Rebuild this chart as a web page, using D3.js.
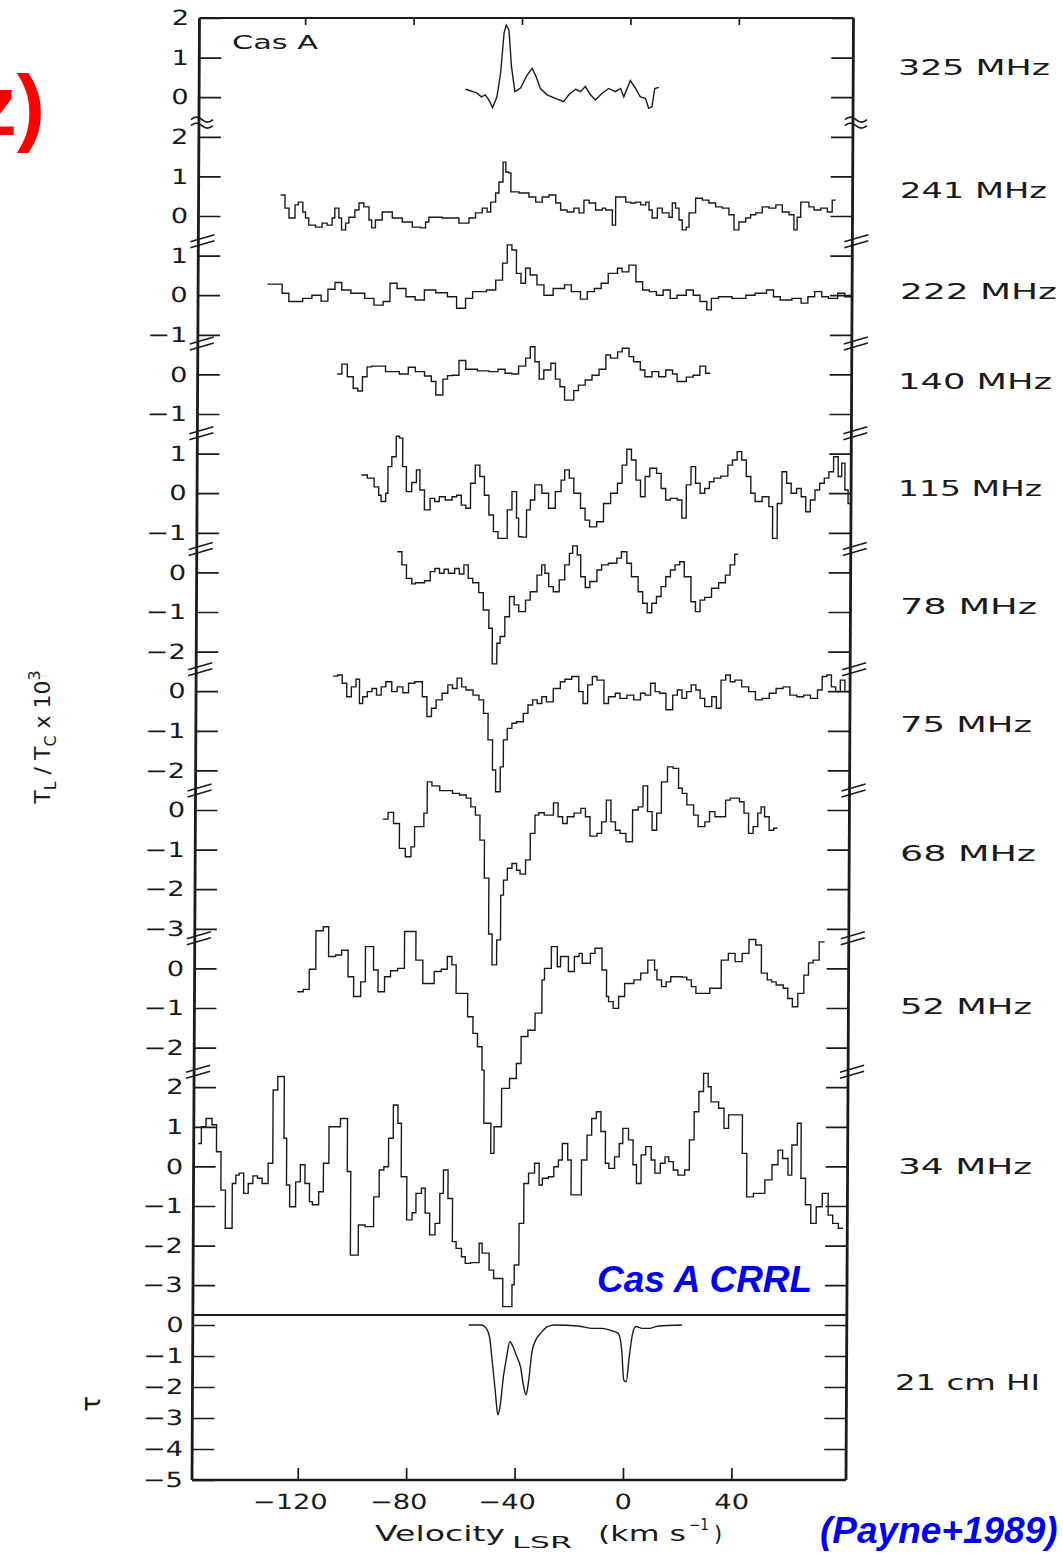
<!DOCTYPE html>
<html>
<head>
<meta charset="utf-8">
<title>Cas A carbon recombination lines</title>
<script src="https://cdn.jsdelivr.net/npm/d3@7"></script>
<style>
  body { margin: 0; background: #fff; }
  svg { display: block; }
</style>
</head>
<body>
<script>
// ---------------- data ----------------
// velocities in km/s (LSR), line/continuum ratio in units of 1e-3
// stepped spectra: velocity arrays hold channel edges (one more entry than the values)

const v325 = [-60.7,-56.6,-54.8,-53.4,-52.1,-50.7,-49.1,-47.8,-46.6,-45.8,-44.8,-43.8,-42.5,-40.4,-38.0,-36.2,-34.7,-33.1,-30.6,-27.5,-24.5,-22.6,-20.1,-18.3,-16.5,-14.6,-12.8,-10.3,-7.9,-5.4,-3.5,-2.3,0.1,2.0,3.8,5.7,6.9,8.1,9.1,10.6];
const t325 = [0.20,0.11,0.01,0.06,-0.07,-0.26,0.01,0.61,1.62,1.82,1.70,0.77,0.14,0.23,0.56,0.73,0.52,0.22,0.06,-0.03,-0.11,0.06,0.20,0.14,0.27,0.06,-0.07,0.10,0.22,0.14,0.22,0.01,0.42,0.22,0.01,-0.03,-0.28,-0.24,0.22,0.25];

const v241 = [-128.7,-127.1,-125.6,-123.4,-122.2,-120.5,-119.5,-118.3,-115.8,-113.4,-111.5,-109.7,-108.7,-107.2,-106.2,-104.7,-103.5,-101.3,-99.8,-98.0,-96.1,-95.1,-93.7,-91.2,-87.5,-83.8,-80.1,-77.0,-75.2,-74.0,-69.1,-62.9,-59.2,-56.8,-54.3,-52.5,-51.2,-49.4,-48.2,-46.7,-45.7,-44.7,-43.8,-40.8,-37.1,-34.6,-32.2,-29.7,-27.2,-25.4,-23.0,-20.5,-18.6,-16.8,-14.9,-12.5,-10.0,-8.8,-6.3,-5.1,-1.4,0.4,2.3,4.1,6.0,7.2,8.4,10.3,12.1,14.6,15.8,17.0,18.3,19.5,21.0,22.0,24.4,26.9,29.3,31.8,34.2,36.7,38.6,40.4,42.9,44.7,46.6,49.0,51.5,54.0,56.4,58.9,60.7,61.9,63.2,66.2,68.1,70.6,73.0,74.8,76.1];
const t241 = [0.53,0.20,-0.05,0.28,0.35,0.10,-0.05,-0.23,-0.28,-0.18,-0.23,-0.05,0.20,-0.05,-0.35,-0.18,-0.03,0.15,0.33,0.23,-0.10,-0.30,-0.10,0.10,-0.05,-0.15,-0.28,-0.30,-0.15,-0.03,-0.05,-0.18,-0.05,0.08,0.20,0.10,0.35,0.58,0.86,1.36,1.11,1.09,0.61,0.58,0.48,0.35,0.48,0.53,0.33,0.15,0.10,0.20,0.08,0.40,0.33,0.15,0.20,0.15,-0.23,0.48,0.35,0.33,0.35,0.28,0.35,0.15,-0.05,0.20,0.08,-0.03,0.33,0.20,-0.10,-0.35,-0.28,0.08,0.45,0.40,0.33,0.23,0.20,0.03,-0.35,-0.15,-0.05,0.03,0.08,0.23,0.20,0.28,0.10,0.03,-0.35,-0.03,0.35,0.23,0.15,0.20,0.10,0.40];

const v222 = [-133.4,-128.0,-125.5,-120.4,-117.0,-113.6,-111.1,-108.5,-106.0,-102.6,-97.5,-94.1,-90.7,-88.2,-85.6,-82.3,-78.9,-75.5,-71.3,-67.0,-63.6,-60.3,-57.7,-52.6,-49.2,-46.7,-45.0,-43.3,-41.6,-39.9,-38.2,-36.5,-34.0,-31.4,-28.0,-23.8,-21.3,-17.9,-15.4,-12.8,-10.3,-7.7,-4.3,-2.6,-0.1,2.5,5.0,7.5,10.1,12.6,15.2,17.7,21.1,23.7,26.2,28.7,30.4,33.0,38.0,43.1,46.5,50.7,53.3,55.8,60.1,63.5,66.0,68.5,71.1,73.6,77.0,79.6,82.0];
const t222 = [0.28,0.05,-0.16,-0.08,0.0,-0.15,0.15,0.32,0.13,0.05,-0.08,-0.25,-0.16,0.30,0.17,-0.04,-0.12,0.13,0.06,-0.04,-0.33,-0.08,0.09,0.13,0.38,0.81,1.27,1.14,0.55,0.30,0.68,0.51,0.26,0.0,0.17,0.26,0.09,-0.10,0.09,0.17,0.30,0.55,0.68,0.59,0.76,0.34,0.13,0.09,0.0,0.13,-0.08,0.0,0.13,0.0,-0.16,-0.37,-0.08,-0.04,-0.08,0.0,0.05,0.13,-0.04,-0.12,-0.08,-0.20,-0.04,0.09,-0.04,-0.08,0.05,-0.04];

const v140 = [-107.5,-105.8,-103.8,-101.6,-99.9,-98.2,-96.5,-94.8,-89.7,-84.6,-81.3,-78.7,-75.3,-72.8,-71.1,-68.5,-66.8,-65.1,-62.6,-60.1,-55.8,-51.6,-48.2,-45.6,-43.1,-40.6,-38.0,-36.3,-34.6,-33.0,-31.3,-28.7,-27.0,-25.3,-23.6,-20.2,-18.5,-16.0,-13.5,-10.9,-8.4,-6.7,-4.1,-2.4,0.1,1.8,4.3,6.0,8.6,11.1,13.7,16.2,17.9,21.3,23.8,26.3,28.4,30.1];
const t140 = [0.01,0.26,-0.06,-0.35,-0.42,-0.06,0.19,0.21,0.07,0.01,0.18,0.07,-0.04,-0.18,-0.52,-0.12,-0.03,-0.02,0.35,0.13,0.09,0.07,0.13,0.03,0.01,0.21,0.41,0.70,0.32,-0.12,0.11,0.28,-0.12,-0.31,-0.65,-0.41,-0.27,-0.14,-0.02,0.13,0.49,0.41,0.57,0.66,0.45,0.32,0.11,-0.06,0.07,-0.06,0.11,0.01,-0.18,-0.07,-0.02,0.21,0.03];

const v115 = [-98.4,-96.2,-93.7,-92.0,-91.1,-89.4,-88.6,-87.2,-85.6,-84.4,-83.2,-81.8,-79.8,-78.1,-76.8,-75.1,-73.0,-71.3,-69.6,-67.4,-64.9,-63.2,-61.5,-59.8,-58.1,-56.4,-54.7,-53.0,-51.3,-49.6,-47.9,-46.2,-44.5,-42.8,-41.1,-40.3,-39.1,-37.4,-36.0,-34.4,-31.8,-29.3,-26.8,-24.7,-23.4,-21.7,-20.0,-17.5,-15.8,-14.1,-11.5,-9.0,-6.4,-3.9,-2.2,-0.5,1.2,2.9,4.6,6.3,8.0,10.5,12.2,13.9,15.6,18.2,19.9,21.5,23.2,24.9,26.6,28.3,30.0,31.7,34.2,36.8,38.5,40.2,41.9,43.6,45.3,46.9,49.5,52.0,53.4,55.1,56.8,58.5,60.2,62.2,63.9,65.6,67.3,69.0,70.7,72.4,74.1,75.8,77.5,78.8,80.0,81.2,82.2];
const t115 = [0.46,0.38,0.16,-0.05,-0.21,0.0,0.67,0.92,1.44,1.39,0.67,0.04,0.27,0.59,0.08,-0.42,-0.13,-0.21,-0.09,-0.17,-0.09,-0.05,-0.30,-0.38,0.25,0.71,0.42,-0.05,-0.55,-0.97,-1.14,-1.14,-0.42,0.04,-0.63,-1.10,-1.11,-0.42,-0.17,0.21,0.0,-0.38,0.04,0.33,0.59,0.38,0.0,-0.38,-0.68,-0.85,-0.72,-0.26,0.0,0.25,0.71,1.11,0.84,0.33,-0.09,0.42,0.63,0.50,0.12,-0.17,-0.13,-0.17,-0.63,0.21,0.67,0.25,0.0,0.12,0.29,0.38,0.43,0.71,0.84,1.05,0.84,0.42,0.0,-0.21,-0.09,-0.34,-1.14,-0.26,0.54,0.25,0.0,0.12,-0.09,-0.47,-0.17,0.08,0.25,0.38,0.54,0.92,0.42,0.76,0.08,-0.26];

const v78 = [-85.0,-83.3,-81.6,-79.6,-78.3,-74.9,-72.8,-71.1,-69.4,-67.7,-66.1,-63.8,-62.1,-60.4,-58.8,-57.1,-54.9,-53.2,-51.1,-49.8,-48.1,-46.9,-45.2,-43.5,-41.8,-40.1,-37.6,-35.9,-33.4,-31.7,-30.5,-29.1,-27.4,-25.2,-23.2,-21.5,-20.3,-18.6,-17.3,-15.6,-13.9,-11.3,-9.6,-7.1,-4.0,-2.3,-0.3,1.4,3.9,5.6,7.3,9.0,10.7,12.4,14.1,15.8,17.5,19.2,20.9,23.4,25.1,26.8,28.5,31.0,33.6,36.1,37.8,39.5,40.7];
const t78 = [0.52,0.19,-0.15,-0.29,-0.26,-0.21,0.02,0.10,-0.02,0.08,-0.02,0.10,-0.04,0.19,-0.15,-0.26,-0.51,-0.95,-1.41,-2.31,-1.79,-1.62,-1.12,-0.61,-0.82,-0.99,-0.70,-0.49,-0.07,0.19,-0.02,-0.36,-0.49,-0.19,0.19,0.48,0.67,0.44,-0.11,-0.38,-0.23,0.06,0.19,0.23,0.36,0.52,0.23,-0.11,-0.49,-0.78,-1.02,-0.78,-0.61,-0.36,-0.11,0.06,0.19,0.27,-0.11,-0.74,-0.99,-0.70,-0.63,-0.40,-0.26,-0.07,0.19,0.46];

const v75 = [-108.5,-106.8,-105.1,-103.4,-101.7,-100.0,-98.7,-97.5,-95.8,-94.1,-92.4,-90.7,-89.0,-86.8,-84.8,-82.7,-80.6,-78.3,-75.5,-73.8,-72.1,-70.4,-68.2,-66.1,-64.4,-62.7,-61.0,-59.4,-56.8,-54.6,-52.9,-51.2,-49.5,-48.3,-46.6,-45.5,-44.1,-42.4,-40.7,-38.2,-36.5,-34.8,-33.1,-31.4,-29.7,-27.2,-24.6,-22.9,-20.4,-17.8,-16.2,-14.5,-12.8,-11.1,-8.5,-6.8,-4.3,-2.6,0.0,2.5,5.0,6.7,8.7,10.4,12.1,14.4,16.9,18.6,20.3,22.0,23.7,25.4,27.0,28.7,31.3,33.0,34.7,36.4,38.1,39.8,42.3,44.9,47.4,49.9,52.5,55.0,57.6,60.1,62.7,65.2,67.7,70.3,72.0,73.7,75.4,77.0,78.7,80.4,82.1];
const t75 = [0.38,0.41,0.20,-0.14,0.11,0.30,-0.31,-0.14,-0.01,0.07,-0.10,0.11,0.24,-0.01,0.11,-0.04,0.20,0.24,-0.14,-0.64,-0.43,-0.22,-0.05,0.16,0.07,0.33,0.11,0.03,-0.10,-0.22,-0.56,-1.23,-1.99,-2.54,-1.91,-1.23,-0.94,-0.81,-0.77,-0.56,-0.35,-0.22,-0.31,-0.14,-0.27,0.07,0.24,0.30,0.37,-0.01,-0.31,0.16,0.37,0.28,-0.31,-0.14,-0.05,-0.18,-0.10,-0.22,-0.05,-0.10,0.20,-0.01,-0.05,-0.47,-0.10,0.03,-0.18,-0.01,0.16,0.03,-0.18,-0.39,-0.14,-0.43,0.28,0.41,0.24,0.28,0.11,-0.01,-0.22,-0.18,-0.05,0.07,0.11,-0.10,-0.14,-0.10,-0.18,0.03,0.37,0.41,0.11,-0.01,0.28,-0.01];

const v68 = [-89.9,-87.9,-85.9,-83.7,-81.5,-79.4,-78.1,-74.7,-73.5,-71.8,-68.9,-64.2,-61.6,-59.1,-57.4,-55.7,-54.0,-52.3,-50.6,-49.3,-47.6,-46.2,-45.2,-43.8,-42.1,-40.4,-39.1,-37.1,-35.4,-33.7,-32.3,-30.3,-26.9,-25.2,-23.5,-21.8,-19.3,-16.8,-15.1,-13.4,-10.8,-9.1,-7.4,-5.7,-4.0,-2.3,-0.1,2.3,4.4,6.1,7.8,9.5,11.2,12.9,15.1,17.2,19.2,20.6,22.3,24.8,26.5,29.0,30.7,32.7,34.4,36.6,38.3,41.7,43.4,45.1,46.8,48.5,49.7,51.0,52.7,54.4,55.8];
const t68 = [-0.23,-0.06,-0.34,-0.97,-1.18,-0.93,-0.42,-0.08,0.71,0.61,0.49,0.42,0.38,0.30,0.08,-0.13,-0.76,-1.72,-3.13,-3.91,-3.28,-2.15,-1.77,-1.47,-1.35,-1.52,-1.62,-1.26,-0.59,-0.13,-0.07,-0.13,0.18,-0.17,-0.34,-0.17,-0.08,0.04,-0.17,-0.66,-0.59,-0.30,0.25,-0.30,-0.51,-0.59,-0.80,0.0,0.08,0.61,-0.04,-0.51,-0.08,0.71,1.09,1.05,0.55,0.42,0.13,-0.13,-0.42,-0.30,-0.04,-0.17,-0.17,0.25,0.30,0.21,-0.08,-0.59,-0.42,-0.08,0.08,-0.17,-0.51,-0.46];

const v52 = [-121.1,-118.9,-116.7,-114.3,-111.6,-109.6,-107.0,-104.8,-102.4,-100.3,-97.7,-96.0,-93.0,-91.3,-88.9,-86.7,-84.1,-81.6,-77.4,-74.8,-70.6,-68.0,-65.8,-64.1,-62.5,-58.2,-56.2,-54.5,-52.8,-52.0,-49.4,-48.2,-45.5,-42.6,-40.1,-38.4,-35.9,-33.3,-30.8,-29.9,-27.4,-25.2,-24.0,-21.1,-18.9,-17.2,-16.0,-13.0,-11.3,-8.7,-7.0,-6.2,-4.5,-2.5,-0.3,3.1,5.6,8.2,10.7,11.6,13.3,15.0,16.7,20.9,22.6,24.3,26.0,31.1,35.3,37.9,40.4,43.0,45.5,48.0,50.1,52.3,53.9,55.6,58.2,59.9,61.6,63.6,65.8,67.5,69.2,71.4,73.4];
const t52 = [-0.59,-0.53,-0.02,0.95,1.05,0.30,0.34,0.46,-0.21,-0.71,-0.34,0.55,-0.04,-0.59,-0.21,-0.06,0.0,0.93,0.21,-0.38,-0.08,-0.02,0.30,0.09,-0.63,-1.22,-1.64,-1.98,-2.57,-3.91,-4.67,-4.0,-3.03,-2.78,-2.40,-1.72,-1.56,-1.13,-0.29,0.0,0.55,0.04,0.30,-0.08,0.30,0.38,0.13,0.38,0.51,-0.04,-0.71,-0.84,-1.01,-0.71,-0.38,-0.29,-0.12,0.21,-0.04,-0.29,-0.46,-0.34,-0.21,-0.22,-0.29,-0.46,-0.63,-0.50,0.21,0.38,0.17,0.38,0.73,0.59,-0.12,-0.29,-0.34,-0.42,-0.50,-0.76,-0.97,-0.63,-0.17,0.14,0.21,0.67];

const v34 = [-157.4,-156.2,-154.5,-152.3,-150.6,-148.9,-147.2,-144.7,-143.4,-142.2,-140.5,-138.8,-137.1,-135.4,-133.7,-131.5,-129.8,-128.1,-125.7,-124.7,-123.5,-121.3,-119.6,-117.9,-116.2,-115.1,-112.8,-111.1,-109.1,-104.9,-102.3,-101.0,-98.1,-95.6,-92.5,-90.5,-88.8,-87.1,-85.4,-83.7,-82.4,-80.3,-78.3,-76.9,-74.9,-73.5,-71.8,-69.8,-68.1,-66.8,-65.1,-63.4,-62.0,-60.0,-58.6,-56.6,-53.5,-52.4,-49.8,-48.1,-44.7,-41.3,-40.5,-38.8,-37.1,-35.4,-33.2,-31.5,-30.3,-28.1,-26.1,-24.4,-23.0,-21.0,-19.7,-15.9,-13.9,-12.2,-10.5,-8.8,-7.1,-5.8,-3.7,-2.0,-0.7,1.4,3.1,4.4,6.1,7.8,9.8,11.2,13.2,14.9,16.3,18.0,19.7,22.2,23.9,25.6,27.3,29.0,30.7,31.8,34.6,36.6,38.3,43.4,45.1,47.6,51.8,54.4,56.6,58.3,60.3,61.7,63.7,65.1,66.8,68.8,70.8,73.0,75.2,76.9,79.0,80.7];
const t34 = [0.58,1.00,1.21,1.05,0.37,-0.60,-1.56,-0.43,-0.22,-0.17,-0.68,-0.43,-0.24,-0.30,-0.43,0.08,1.93,2.27,0.71,-0.47,-1.02,-0.39,0.04,-0.43,-0.89,-0.97,-0.64,0.08,1.00,1.21,-0.13,-2.24,-1.48,-1.52,-0.77,-0.09,-0.01,0.71,1.55,1.09,-0.26,-1.35,-1.17,-0.68,-0.55,-1.18,-1.73,-1.44,-0.68,-0.09,-0.81,-1.90,-2.07,-2.28,-2.45,-2.43,-1.94,-2.19,-2.62,-2.83,-3.54,-2.99,-2.49,-1.44,-0.43,-0.17,0.08,-0.47,-0.30,-0.26,-0.01,0.16,0.58,0.16,-0.72,0.16,0.79,1.21,1.38,0.88,0.08,-0.05,0.24,0.58,0.96,0.67,0.04,-0.43,0.29,0.50,0.16,-0.17,0.08,0.24,0.12,-0.09,-0.22,-0.09,0.67,1.38,1.89,2.35,2.01,1.63,1.47,0.96,1.30,0.33,-0.77,-0.68,-0.34,0.04,0.41,0.20,-0.22,0.54,1.09,-0.30,-0.97,-1.44,-1.02,-0.68,-1.23,-1.44,-1.56];

// 21 cm HI optical depth
const vHI = [-57.2,-52.5,-50.7,-49.5,-48.5,-47.2,-46.3,-45.5,-44.3,-43.2,-42.0,-40.8,-39.4,-38.0,-36.8,-35.9,-35.1,-33.8,-32.4,-30.7,-28.1,-25.5,-16.8,-11.5,-8.0,-4.6,-2.0,-0.7,0.1,1.0,2.1,3.3,4.5,6.8,9.4,12.8,21.5];
const tauHI = [0,0,-0.11,-0.38,-1.13,-2.20,-2.90,-2.63,-1.67,-1.07,-0.54,-0.70,-1.02,-1.35,-1.99,-2.26,-1.88,-0.86,-0.48,-0.27,-0.05,0,-0.03,-0.11,-0.11,-0.18,-0.27,-0.81,-1.77,-1.83,-1.02,-0.27,-0.05,-0.11,-0.11,-0.03,0];

const freqLabels = ["325 MHz","241 MHz","222 MHz","140 MHz","115 MHz","78 MHz","75 MHz","68 MHz","52 MHz","34 MHz"];
const panelTicks = [[2,1,0],[2,1,0],[1,0,-1],[0,-1],[1,0,-1],[0,-1,-2],[0,-1,-2],[0,-1,-2,-3],[0,-1,-2],[2,1,0,-1,-2,-3]];
const tauTicks = [0,-1,-2,-3,-4,-5];
const velTicks = [-120,-80,-40,0,40];

// ---------------- layout ----------------
const W = 1063, H = 1553;
const ink = "#1a1a1a";
const L = 192, R = 846, T = 18, B = 1480, SPLIT = 1315;
const gridTop = 18, step = 39.6;          // one 1e-3 unit on the stacked axis
const labelX = [898,900,900,898,898,900,900,900,900,898];
const labelY = [67,190,291,381,488,606,724,853,1006,1166];
const labelW = [152,147,157,154,144,137,132,136,132,134];
const breakRows = [2.64,5.65,8.23,10.5,13.42,16.46,19.52,23.25,26.62];

const svg = d3.select("body").append("svg")
  .attr("width", W).attr("height", H)
  .style("font-family", "'DejaVu Sans', sans-serif");

const x = d3.scaleLinear().domain([-159, 82.3]).range([L, R]);

// the whole frame leans a little, as on the printed page
const plot = svg.append("g")
  .attr("transform", `translate(0,${B}) skewX(-0.294) translate(0,${-B})`);

function styleAxis(g, sx) {
  g.select(".domain").remove();
  g.attr("font-family", null).attr("font-size", null);
  g.selectAll(".tick line").attr("stroke", ink).attr("stroke-width", 1.7);
  g.selectAll(".tick text")
    .attr("fill", ink)
    .attr("font-size", 21)
    .attr("transform", `scale(${sx},1)`);
}

function steps(vel, val) {
  const pts = val.map((t, i) => [vel[i], t]);
  pts.push([vel[val.length], val[val.length - 1]]);
  return pts;
}

const spectra = [
  { vel: v325, val: t325, smooth: true },
  { vel: v241, val: t241 }, { vel: v222, val: t222 }, { vel: v140, val: t140 },
  { vel: v115, val: t115 }, { vel: v78, val: t78 }, { vel: v75, val: t75 },
  { vel: v68, val: t68 }, { vel: v52, val: t52 }, { vel: v34, val: t34 }
];

let row = 0;
spectra.forEach((s, i) => {
  const ticks = panelTicks[i];
  const y = d3.scaleLinear()
    .domain([ticks[0], ticks[0] - 1])
    .range([gridTop + row * step, gridTop + (row + 1) * step]);
  row += ticks.length;

  const left = plot.append("g").attr("transform", `translate(${L},0)`)
    .call(d3.axisLeft(y).tickValues(ticks).tickSizeInner(-22).tickSizeOuter(0)
      .tickPadding(8).tickFormat(d3.format("d")));
  styleAxis(left, 1.3);

  const right = plot.append("g").attr("transform", `translate(${R},0)`)
    .call(d3.axisRight(y).tickValues(ticks).tickSizeInner(-22).tickSizeOuter(0).tickFormat(""));
  styleAxis(right, 1);

  const pts = s.smooth ? s.vel.map((v, j) => [v, s.val[j]]) : steps(s.vel, s.val);
  plot.append("path")
    .datum(pts)
    .attr("fill", "none")
    .attr("stroke", ink)
    .attr("stroke-width", 1.4)
    .attr("d", d3.line()
      .x(d => x(d[0]))
      .y(d => y(d[1]))
      .curve(s.smooth ? d3.curveLinear : d3.curveStepAfter));

  svg.append("text")
    .attr("x", labelX[i]).attr("y", labelY[i] + 8)
    .attr("font-size", 22).attr("fill", ink)
    .attr("textLength", labelW[i]).attr("lengthAdjust", "spacingAndGlyphs")
    .text(freqLabels[i]);
});

// HI absorption panel
const yTau = d3.scaleLinear().domain([0, -5]).range([1325, B]);
const tauLeft = plot.append("g").attr("transform", `translate(${L},0)`)
  .call(d3.axisLeft(yTau).tickValues(tauTicks).tickSizeInner(-22).tickSizeOuter(0)
    .tickPadding(7).tickFormat(d3.format("d")));
styleAxis(tauLeft, 1.3);
const tauRight = plot.append("g").attr("transform", `translate(${R},0)`)
  .call(d3.axisRight(yTau).tickValues(tauTicks.slice(0, 5)).tickSizeInner(-22).tickSizeOuter(0).tickFormat(""));
styleAxis(tauRight, 1);

plot.append("path")
  .datum(vHI.map((v, j) => [v, tauHI[j]]))
  .attr("fill", "none").attr("stroke", ink).attr("stroke-width", 1.4)
  .attr("d", d3.line().x(d => x(d[0])).y(d => yTau(d[1])).curve(d3.curveMonotoneX));

svg.append("text")
  .attr("x", 895).attr("y", 1390)
  .attr("font-size", 22).attr("fill", ink)
  .attr("textLength", 145).attr("lengthAdjust", "spacingAndGlyphs")
  .text("21 cm HI");

// velocity axes (top ticks only, bottom ticks with labels)
const topAxis = plot.append("g").attr("transform", `translate(0,${T})`)
  .call(d3.axisTop(x).tickValues(velTicks).tickSizeInner(-7).tickSizeOuter(0).tickFormat(""));
styleAxis(topAxis, 1);

const bottomAxis = plot.append("g").attr("transform", `translate(0,${B})`)
  .call(d3.axisBottom(x).tickValues(velTicks).tickSizeInner(-12).tickSizeOuter(0)
    .tickPadding(14).tickFormat(d3.format("d")));
styleAxis(bottomAxis, 1.3);
bottomAxis.selectAll(".tick text").attr("dx", d => d < 0 ? -6 : 0);

// frame
const frame = plot.append("g").attr("stroke", ink).attr("fill", "none");
frame.append("line").attr("x1", L).attr("x2", R).attr("y1", T).attr("y2", T).attr("stroke-width", 2);
frame.append("line").attr("x1", L).attr("x2", R).attr("y1", B).attr("y2", B).attr("stroke-width", 2.4);
frame.append("line").attr("x1", L).attr("x2", L).attr("y1", T).attr("y2", B).attr("stroke-width", 2.8);
frame.append("line").attr("x1", R).attr("x2", R).attr("y1", T).attr("y2", B).attr("stroke-width", 2.8);
frame.append("line").attr("x1", L).attr("x2", R).attr("y1", SPLIT).attr("y2", SPLIT).attr("stroke-width", 1.8);

// axis breaks between stacked spectra
breakRows.forEach((r, i) => {
  const yb = gridTop + r * step;
  [L, R].forEach(ax => {
    [-3, 3].forEach(o => {
      const d = i === 0
        ? `M${ax - 8},${yb + o} q5.5,-5 11,0 t11,0`
        : `M${ax - 8},${yb + o + 3} L${ax + 16},${yb + o - 4}`;
      frame.append("path").attr("d", d).attr("stroke-width", 1.6);
    });
  });
});

// source name inside the frame
svg.append("text")
  .attr("x", 232).attr("y", 49)
  .attr("font-size", 20).attr("fill", ink)
  .attr("textLength", 86).attr("lengthAdjust", "spacingAndGlyphs")
  .text("Cas A");

// axis titles
const yt = svg.append("text")
  .attr("transform", "translate(50,737) rotate(-90)")
  .attr("text-anchor", "middle")
  .attr("font-size", 22).attr("fill", ink);
yt.append("tspan").text("T");
yt.append("tspan").attr("dy", 6).attr("font-size", 16).text("L");
yt.append("tspan").attr("dy", -6).text(" / T");
yt.append("tspan").attr("dy", 6).attr("font-size", 16).text("C");
yt.append("tspan").attr("dy", -6).text(" x 10");
yt.append("tspan").attr("dy", -10).attr("font-size", 16).text("3");

svg.append("text")
  .attr("transform", "translate(100,1404) rotate(-90)")
  .attr("text-anchor", "middle")
  .attr("font-size", 26).attr("fill", ink)
  .text("τ");

const xt = svg.append("g").attr("fill", ink);
xt.append("text").attr("x", 375).attr("y", 1541).attr("font-size", 21)
  .attr("textLength", 130).attr("lengthAdjust", "spacingAndGlyphs").text("Velocity");
xt.append("text").attr("x", 512).attr("y", 1548).attr("font-size", 16)
  .attr("textLength", 60).attr("lengthAdjust", "spacingAndGlyphs").text("LSR");
xt.append("text").attr("x", 598).attr("y", 1541).attr("font-size", 21)
  .attr("textLength", 88).attr("lengthAdjust", "spacingAndGlyphs").text("(km s");
xt.append("text").attr("x", 689).attr("y", 1530).attr("font-size", 15)
  .attr("textLength", 20).attr("lengthAdjust", "spacingAndGlyphs").text("−1");
xt.append("text").attr("x", 714).attr("y", 1541).attr("font-size", 21).text(")");

// annotations
svg.append("text")
  .attr("x", 45).attr("y", 135)
  .attr("text-anchor", "end")
  .attr("font-family", "'Liberation Sans', Arial, sans-serif")
  .attr("font-weight", "bold").attr("font-size", 85)
  .attr("fill", "#ff0000")
  .text("z)");

svg.append("text")
  .attr("x", 597).attr("y", 1292)
  .attr("font-family", "'Liberation Sans', Arial, sans-serif")
  .attr("font-weight", "bold").attr("font-style", "italic").attr("font-size", 37)
  .attr("fill", "#0000f0")
  .text("Cas A CRRL");

svg.append("text")
  .attr("x", 820).attr("y", 1543)
  .attr("font-family", "'Liberation Sans', Arial, sans-serif")
  .attr("font-weight", "bold").attr("font-style", "italic").attr("font-size", 37)
  .attr("fill", "#0000f0")
  .text("(Payne+1989)");
</script>
</body>
</html>
